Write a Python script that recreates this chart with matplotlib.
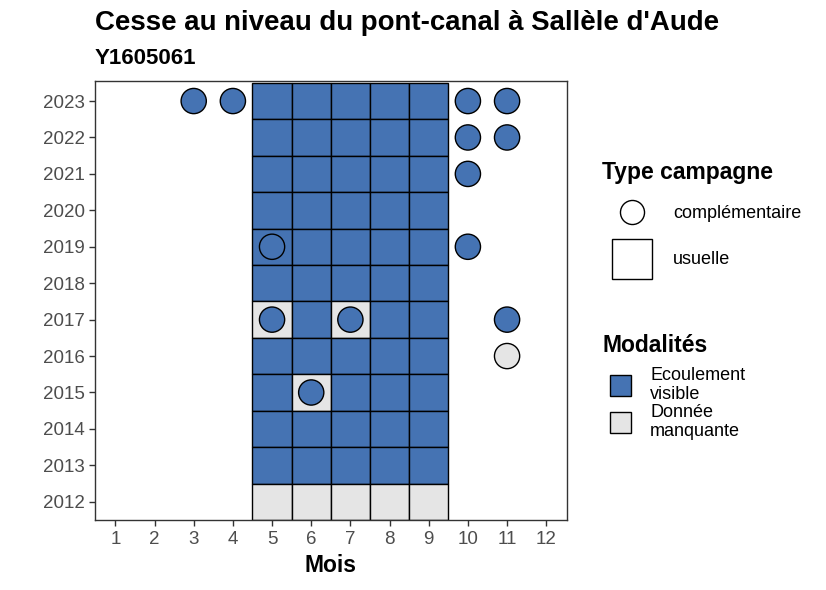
import numpy as np
import matplotlib
matplotlib.use("Agg")
import matplotlib.pyplot as plt
from matplotlib.patches import Rectangle

plt.rcParams['font.family'] = ['Liberation Sans', 'DejaVu Sans']

# campagnes usuelles : mois 5 a 9, V = écoulement visible, M = donnée manquante
years = [2023, 2022, 2021, 2020, 2019, 2018, 2017, 2016, 2015, 2014, 2013, 2012]
usual_months = [5, 6, 7, 8, 9]
usual_codes = ['VVVVV', 'VVVVV', 'VVVVV', 'VVVVV', 'VVVVV', 'VVVVV',
               'MVMVV', 'VVVVV', 'VMVVV', 'VVVVV', 'VVVVV', 'MMMMM']

# campagnes complémentaires
comp_year = [2023, 2023, 2023, 2023, 2022, 2022, 2021, 2019, 2019, 2017, 2017, 2017, 2016, 2015]
comp_month = [3, 4, 10, 11, 10, 11, 10, 5, 10, 5, 7, 11, 11, 6]
comp_code = ['V', 'V', 'V', 'V', 'V', 'V', 'V', 'V', 'V', 'V', 'V', 'V', 'M', 'V']

colors = {'V': '#4573b3', 'M': '#e5e5e5'}
labels = {'V': 'Ecoulement\nvisible', 'M': 'Donnée\nmanquante'}

fig = plt.figure(figsize=(8.26, 5.9), dpi=100)
ax = fig.add_axes([95/826, 70/590, 472/826, 439/590])

for y, codes in zip(years, usual_codes):
    for m, c in zip(usual_months, codes):
        ax.add_patch(Rectangle((m - 0.5, y - 0.5), 1, 1, facecolor=colors[c],
                               edgecolor='black', linewidth=1))

ax.scatter(comp_month, comp_year, s=330, c=[colors[c] for c in comp_code],
           edgecolors='black', linewidths=1, zorder=3)

ax.set_xlim(0.48, 12.53)
ax.set_ylim(2011.5, 2023.55)
ax.set_xticks(range(1, 13))
ax.set_yticks(range(2012, 2024))
ax.tick_params(colors='#333333', labelcolor='#4d4d4d', labelsize=13.5, length=4, width=1)
ax.tick_params(axis='x', pad=4)
for s in ax.spines.values():
    s.set_color('#333333')
    s.set_linewidth(1)
ax.set_xlabel('Mois', fontsize=16.5, fontweight='bold', labelpad=4)

fig.text(95/826, 1 - 23/590, "Cesse au niveau du pont-canal à Sallèle d'Aude",
         fontsize=19.9, fontweight='bold', va='center', ha='left')
fig.text(95/826, 1 - 58/590, 'Y1605061', fontsize=16, fontweight='bold',
         va='center', ha='left')

# légende
lg = fig.add_axes([0, 0, 1, 1], zorder=5)
lg.set_xlim(0, 826)
lg.set_ylim(590, 0)
lg.axis('off')
lg.patch.set_alpha(0)

lg.text(602, 173, 'Type campagne', fontsize=16.5, fontweight='bold', va='center')
lg.scatter([632], [212], s=300, facecolors='white', edgecolors='black', linewidths=1)
lg.text(673, 213, 'complémentaire', fontsize=13, va='center')
lg.add_patch(Rectangle((612, 239), 40, 40, facecolor='white', edgecolor='black', linewidth=1))
lg.text(673, 260, 'usuelle', fontsize=13, va='center')

lg.text(602, 345, 'Modalités', fontsize=16.5, fontweight='bold', va='center')
for i, c in enumerate(['V', 'M']):
    yc = 385 + i * 37
    lg.add_patch(Rectangle((610, yc - 10), 21, 21, facecolor=colors[c],
                           edgecolor='black', linewidth=1))
    lg.text(650, yc, labels[c], fontsize=13, va='center', linespacing=1.15)

fig.savefig('out.png', dpi=100)
